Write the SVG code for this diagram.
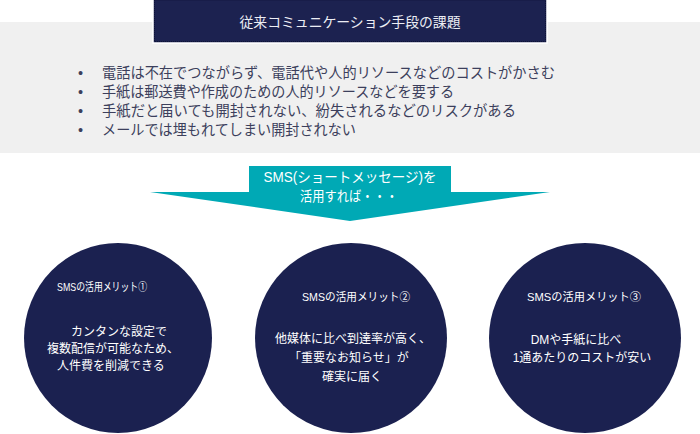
<svg xmlns="http://www.w3.org/2000/svg" width="700" height="434" viewBox="0 0 700 434">
<style>
.jp{font-family:"Liberation Sans","Noto Sans CJK JP",sans-serif;}
.w{fill:#ffffff;}
.list{fill:#3c3f5c;font-size:14.5px;}
.circ{fill:#1b2150;}
.ct{font-size:11.5px;fill:#ffffff;text-anchor:middle;}
.cb{font-size:12px;fill:#ffffff;text-anchor:middle;}
</style>
<rect x="0" y="0" width="700" height="434" fill="#ffffff"/>
<g id="problems">
<rect x="0" y="22" width="700" height="131" fill="#f0f0f0"/>
<g class="jp list">
<text x="78" y="78">•</text><text x="102" y="78" textLength="453" lengthAdjust="spacingAndGlyphs">電話は不在でつながらず、電話代や人的リソースなどのコストがかさむ</text>
<text x="78" y="97">•</text><text x="102" y="97" textLength="352" lengthAdjust="spacingAndGlyphs">手紙は郵送費や作成のための人的リソースなどを要する</text>
<text x="78" y="116">•</text><text x="102" y="116" textLength="414" lengthAdjust="spacingAndGlyphs">手紙だと届いても開封されない、紛失されるなどのリスクがある</text>
<text x="78" y="135">•</text><text x="102" y="135" textLength="254" lengthAdjust="spacingAndGlyphs">メールでは埋もれてしまい開封されない</text>
</g>
</g>
<g id="title">
<rect x="153" y="-1" width="394" height="44" fill="#1c2250" stroke="#ffffff" stroke-width="1.5"/>
<rect x="154.5" y="0" width="391" height="41.5" fill="none" stroke="#0e1335" stroke-width="1" stroke-dasharray="1,1"/>
<text class="jp" x="350" y="27" font-size="14" fill="#eceef5" text-anchor="middle" textLength="221" lengthAdjust="spacingAndGlyphs">従来コミュニケーション手段の課題</text>
</g>
<g id="arrow">
<polygon points="249,166 451,166 451,192 550,192 350,221 150,192 249,192" fill="#00a9b5"/>
<text class="jp w" x="350" y="182" font-size="14" text-anchor="middle" textLength="173" lengthAdjust="spacingAndGlyphs">SMS(ショートメッセージ)を</text>
<text class="jp w" x="349" y="201" font-size="14" text-anchor="middle" textLength="98" lengthAdjust="spacingAndGlyphs">活用すれば・・・</text>
</g>
<g id="merit1">
<ellipse class="circ" cx="118" cy="338" rx="94" ry="95"/>
<text class="jp ct" x="102" y="291" textLength="90" lengthAdjust="spacingAndGlyphs">SMSの活用メリット①</text>
<text class="jp cb" x="119" y="336">カンタンな設定で</text>
<text class="jp cb" x="113" y="353">複数配信が可能なため、</text>
<text class="jp cb" x="111" y="370">人件費を削減できる</text>
</g>
<g id="merit2">
<ellipse class="circ" cx="351" cy="338" rx="96" ry="95"/>
<text class="jp ct" x="356" y="301" textLength="108" lengthAdjust="spacingAndGlyphs">SMSの活用メリット②</text>
<text class="jp cb" x="353" y="343">他媒体に比べ到達率が高く、</text>
<text class="jp cb" x="349" y="362">「重要なお知らせ」が</text>
<text class="jp cb" x="352" y="381">確実に届く</text>
</g>
<g id="merit3">
<ellipse class="circ" cx="585" cy="338" rx="96" ry="95"/>
<text class="jp ct" x="584" y="301" textLength="114" lengthAdjust="spacingAndGlyphs">SMSの活用メリット③</text>
<text class="jp cb" x="576" y="344">DMや手紙に比べ</text>
<text class="jp cb" x="582" y="362">1通あたりのコストが安い</text>
</g>
<g id="connectors"></g>
</svg>
